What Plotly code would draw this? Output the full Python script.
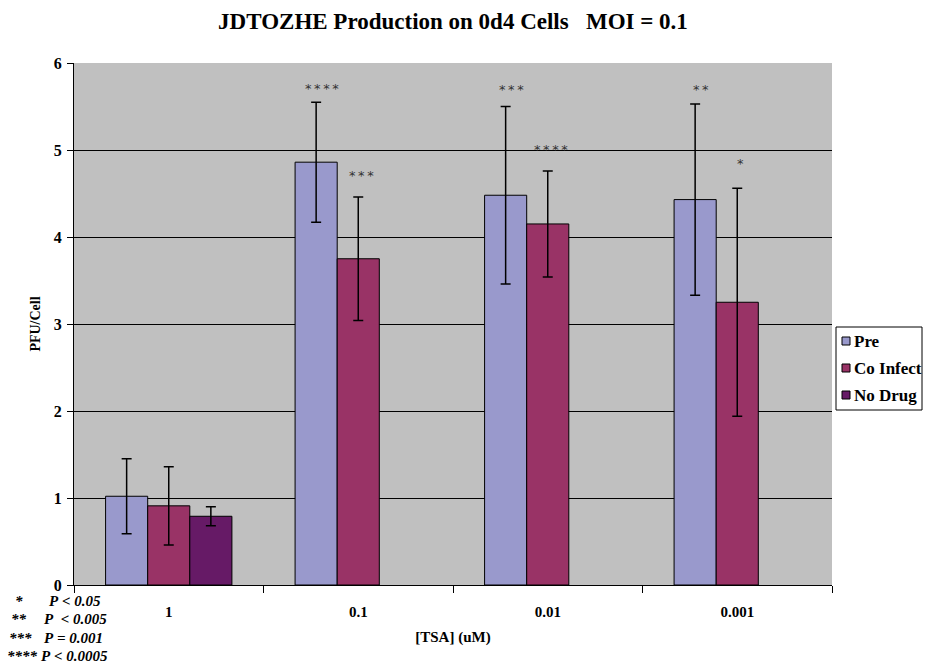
import plotly.graph_objects as go

# Drug concentrations on the category axis
categories = ["1", "0.1", "0.01", "0.001"]

# Mean PFU/Cell per treatment and their error-bar half-widths
pre_values = [1.02, 4.86, 4.48, 4.43]
pre_errors = [0.43, 0.69, 1.02, 1.10]
coinfect_values = [0.91, 3.75, 4.15, 3.25]
coinfect_errors = [0.45, 0.71, 0.61, 1.31]
nodrug_values = [0.79, None, None, None]
nodrug_errors = [0.11, None, None, None]

series_names = ["Pre", "Co Infect", "No Drug"]
series_colors = ["#9999CC", "#993366", "#661A66"]

# Significance marks above the bars
pre_stars = ["", "****", "***", "**"]
coinfect_stars = ["", "***", "****", "*"]

# Footnote legend for the significance marks
footnote_stars = ["*", "**", "***", "****"]
footnote_text = ["P < 0.05", "P  < 0.005", "P = 0.001", "P < 0.0005"]

SERIF = "Liberation Serif"
L, R, T, B = 74, 93, 63, 81
W, H = 925, 666
plot_w = W - L - R
plot_h = H - T - B
bar_px = plot_w / len(categories) / 4.5


def px_x(px):
    return (px - L) / plot_w


def px_y(py):
    return (H - B - py) / plot_h


fig = go.Figure()
for name, vals, errs, color in zip(
        series_names,
        [pre_values, coinfect_values, nodrug_values],
        [pre_errors, coinfect_errors, nodrug_errors],
        series_colors):
    fig.add_trace(go.Bar(
        name=name, x=categories, y=vals, showlegend=False,
        marker=dict(color=color, line=dict(color="black", width=1)),
        error_y=dict(type="data", array=errs, visible=True,
                     color="black", thickness=1.5, width=5),
    ))

annotations = []
shapes = []
star_font = dict(family="DejaVu Sans", size=13, color="#333333")
pre_gap = [0, 4, 8, 5]
co_gap = [0, 12, 12, 15]


def spaced(s):
    return "\u2009".join(s)


for i in range(len(categories)):
    if pre_stars[i]:
        annotations.append(dict(
            x=i, y=pre_values[i] + pre_errors[i], xref="x", yref="y",
            text=spaced(pre_stars[i]), showarrow=False, yanchor="bottom",
            xshift=-bar_px + 6, yshift=pre_gap[i], font=star_font))
    if coinfect_stars[i]:
        annotations.append(dict(
            x=i, y=coinfect_values[i] + coinfect_errors[i], xref="x", yref="y",
            text=spaced(coinfect_stars[i]), showarrow=False, yanchor="bottom",
            xshift=3, yshift=co_gap[i], font=star_font))

# Footnotes below the axis
foot_font = dict(family=SERIF, size=15, color="black")
star_x = [13, 9, 7, 5]
text_x = [47, 42, 42, 39]
for i, (s, t) in enumerate(zip(footnote_stars, footnote_text)):
    yp = px_y(601 + i * 18.3)
    annotations.append(dict(
        x=px_x(star_x[i]), y=yp, xref="paper", yref="paper",
        xanchor="left", yanchor="middle", text=f"<b><i>{s}</i></b>",
        showarrow=False, font=foot_font))
    annotations.append(dict(
        x=px_x(text_x[i]), y=yp, xref="paper", yref="paper",
        xanchor="left", yanchor="middle",
        text=f"<b><i>{t.replace(' ', '&nbsp;')}</i></b>",
        showarrow=False, font=foot_font))

# Boxed legend to the right of the plot area
shapes.append(dict(type="rect", xref="paper", yref="paper",
                   x0=px_x(836), x1=px_x(922), y0=px_y(410), y1=px_y(327),
                   fillcolor="white", line=dict(color="black", width=1)))
for k, (name, color) in enumerate(zip(series_names, series_colors)):
    cy = 341 + k * 27
    shapes.append(dict(type="rect", xref="paper", yref="paper",
                       x0=px_x(842), x1=px_x(850), y0=px_y(cy + 4), y1=px_y(cy - 4),
                       fillcolor=color, line=dict(color="black", width=1)))
    annotations.append(dict(
        x=px_x(852), y=px_y(cy), xref="paper", yref="paper",
        xanchor="left", yanchor="middle", text=f"<b>{name}</b>",
        showarrow=False, font=dict(family=SERIF, size=17, color="black")))

fig.update_layout(
    width=W, height=H,
    margin=dict(l=L, r=R, t=T, b=B, pad=0),
    paper_bgcolor="white",
    plot_bgcolor="#C0C0C0",
    barmode="group",
    bargap=1.5 / 4.5,
    bargroupgap=0,
    showlegend=False,
    title=dict(
        text="<b>JDTOZHE Production on 0d4 Cells\u00a0\u00a0\u00a0MOI = 0.1</b>",
        x=0.5, xref="paper", xanchor="center",
        y=1 - 21 / H, yanchor="middle",
        font=dict(family=SERIF, size=23, color="black")),
    font=dict(family=SERIF, color="black"),
    xaxis=dict(
        type="category", tickson="boundaries", ticks="outside",
        ticklen=7, tickcolor="black", showline=True, linecolor="black",
        linewidth=1, showgrid=False,
        tickfont=dict(family=SERIF, size=15, color="black"),
        ticklabelstandoff=13,
        title=dict(text="<b>[TSA] (uM)</b>", standoff=12,
                   font=dict(family=SERIF, size=15, color="black")),
        tickprefix="<b>", ticksuffix="</b>",
    ),
    yaxis=dict(
        range=[0, 6], dtick=1, ticks="outside", ticklen=6,
        tickcolor="black", showline=True, linecolor="black", linewidth=1,
        showgrid=True, gridcolor="black", gridwidth=1, zeroline=False,
        tickfont=dict(family=SERIF, size=16, color="black"),
        tickprefix="<b>", ticksuffix="</b>",
        ticklabelstandoff=2,
        title=dict(text="<b>PFU/Cell</b>", standoff=9,
                   font=dict(family=SERIF, size=14, color="black")),
    ),
    annotations=annotations,
    shapes=shapes,
)

fig.write_html("out.html")
